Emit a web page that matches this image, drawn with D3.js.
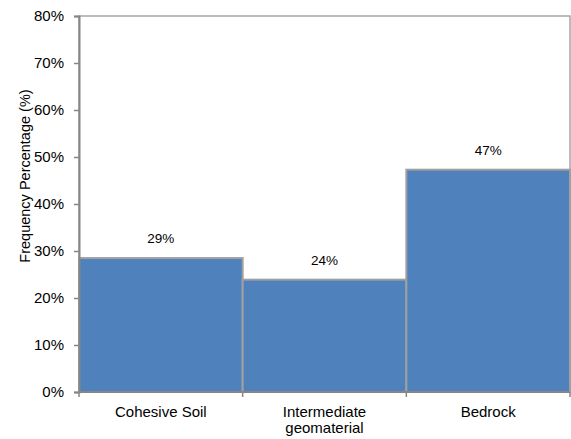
<!DOCTYPE html>
<html>
<head>
<meta charset="utf-8">
<script src="https://cdn.jsdelivr.net/npm/d3@7"></script>
<style>
  html, body { margin: 0; padding: 0; background: #fff; }
  text { font-family: "Liberation Sans", Arial, sans-serif; fill: #000; }
</style>
</head>
<body>
<svg id="chart" width="571" height="439"></svg>
<script>
const categories = ["Cohesive Soil", "Intermediate\ngeomaterial", "Bedrock"];
const values = [28.5, 23.9, 47.3];
const labels = ["29%", "24%", "47%"];
const yTicks = [0, 10, 20, 30, 40, 50, 60, 70, 80];
const yTitle = "Frequency Percentage (%)";

const svg = d3.select("#chart");
const m = { left: 79, right: 570, top: 16, bottom: 392 };

const x = d3.scaleBand().domain(categories).range([m.left, m.right]).padding(0);
const y = d3.scaleLinear().domain([0, 80]).range([m.bottom, m.top]);

// plot area border (top/right)
svg.append("rect")
  .attr("x", m.left).attr("y", m.top)
  .attr("width", m.right - m.left).attr("height", m.bottom - m.top)
  .attr("fill", "none").attr("stroke", "#a6a6a6").attr("stroke-width", 1.5);

// bars
svg.selectAll("rect.bar").data(values).enter().append("rect")
  .attr("class", "bar")
  .attr("x", (d, i) => x(categories[i]))
  .attr("y", d => y(d))
  .attr("width", x.bandwidth())
  .attr("height", d => y(0) - y(d))
  .attr("fill", "#4f81bd")
  .attr("stroke", "#a0a0a0")
  .attr("stroke-width", 2);

// data labels
svg.selectAll("text.dl").data(values).enter().append("text")
  .attr("class", "dl")
  .attr("x", (d, i) => x(categories[i]) + x.bandwidth() / 2)
  .attr("y", d => y(d) - 15)
  .attr("text-anchor", "middle")
  .attr("font-size", "13.5px")
  .text((d, i) => labels[i]);

// y axis
const yAxis = d3.axisLeft(y).tickValues(yTicks).tickFormat(d => d + "%").tickSize(5).tickPadding(10);
const gy = svg.append("g").attr("transform", `translate(${m.left},0)`).call(yAxis);
gy.select(".domain").attr("stroke", "#868686").attr("stroke-width", 2);
gy.selectAll(".tick line").attr("stroke", "#868686").attr("stroke-width", 1.5);
gy.selectAll(".tick text").attr("font-size", "15px").attr("fill", "#000")
  .attr("font-family", "Liberation Sans, Arial, sans-serif");

// x axis
const gx = svg.append("g").attr("transform", `translate(0,${m.bottom})`);
gx.append("line").attr("x1", m.left).attr("x2", m.right).attr("y1", 0).attr("y2", 0)
  .attr("stroke", "#868686").attr("stroke-width", 2);
const bounds = categories.map(c => x(c)).concat([m.right]);
gx.selectAll("line.t").data(bounds).enter().append("line")
  .attr("class", "t")
  .attr("x1", d => d).attr("x2", d => d).attr("y1", 0).attr("y2", 5)
  .attr("stroke", "#868686").attr("stroke-width", 1.5);
categories.forEach(c => {
  const lines = c.split("\n");
  const t = svg.append("text")
    .attr("x", x(c) + x.bandwidth() / 2)
    .attr("y", 417)
    .attr("text-anchor", "middle")
    .attr("font-size", "15px");
  lines.forEach((l, i) => {
    t.append("tspan").attr("x", x(c) + x.bandwidth() / 2).attr("dy", i === 0 ? 0 : 16).text(l);
  });
});

// y title
svg.append("text")
  .attr("transform", `translate(30,176) rotate(-90)`)
  .attr("text-anchor", "middle")
  .attr("font-size", "14.5px")
  .text(yTitle);
</script>
</body>
</html>
